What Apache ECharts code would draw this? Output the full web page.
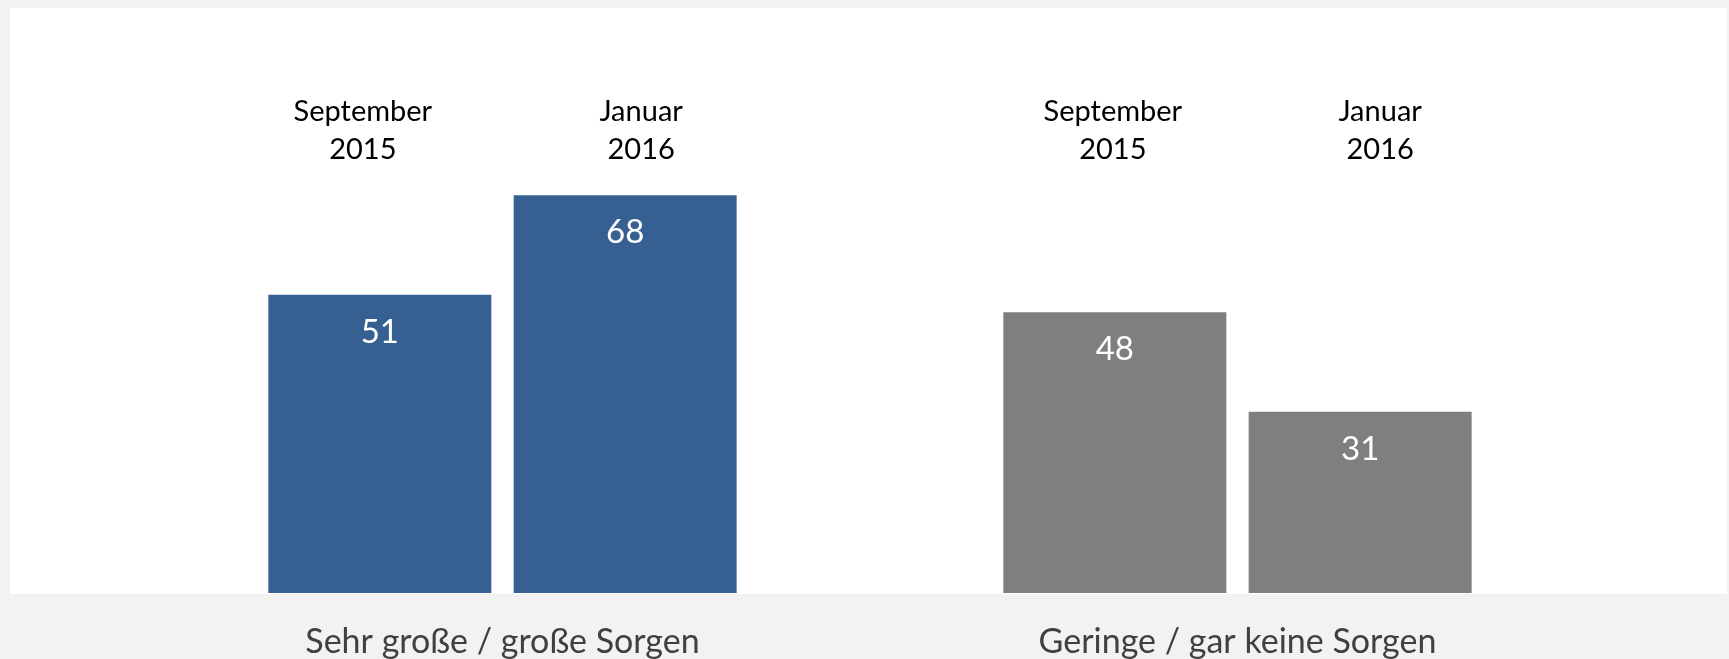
<!DOCTYPE html>
<html>
<head>
<meta charset="utf-8">
<script src="https://cdn.jsdelivr.net/npm/echarts@6/dist/echarts.min.js"></script>
<style>
  html, body { margin: 0; padding: 0; background: #f2f2f2; }
  #chart { width: 1729px; height: 659px; }
</style>
</head>
<body>
<div id="chart"></div>
<script>
// categories on the x axis
const categories = ['Sehr große / große Sorgen', 'Geringe / gar keine Sorgen']
// survey waves
const periods = ['September\n2015', 'Januar\n2016']
const sep2015 = [51, 48]
const jan2016 = [68, 31]
// where the wave headers sit on the value scale
const headerLevel = 79

const groupColors = ['#366092', '#7f7f7f']
// the headers in the original are nudged a little off the bar centres
const headerNudge = {
  sep: [[-17, 0], [-2, 0]],
  jan: [[16, 0], [20, 0]]
}

const myChart = echarts.init(document.getElementById('chart'))

function barSeries (name, values, nudge) {
  return {
    name: name,
    type: 'bar',
    data: values,
    barWidth: 223,
    barGap: '10%',
    itemStyle: {
      color: params => groupColors[params.dataIndex]
    },
    label: {
      show: true,
      position: 'insideTop',
      distance: 21,
      color: '#ffffff',
      fontFamily: 'Lato',
      fontSize: 33
    },
    markPoint: {
      symbol: 'rect',
      symbolSize: 0,
      silent: true,
      label: {
        show: true,
        position: 'inside',
        formatter: name,
        color: '#000000',
        fontFamily: 'Lato',
        fontSize: 29,
        lineHeight: 38
      },
      data: values.map((v, i) => ({
        coord: [i, headerLevel],
        label: { offset: nudge[i] }
      }))
    }
  }
}

const option = {
  backgroundColor: '#f2f2f2',
  animation: false,
  graphic: [{
    type: 'rect',
    z: 0,
    silent: true,
    shape: { x: 10, y: 8, width: 1717, height: 586 },
    style: { fill: '#ffffff' }
  }],
  grid: {
    left: 135,
    right: 124,
    top: 8,
    bottom: 66
  },
  xAxis: {
    type: 'category',
    data: categories,
    axisLine: { show: false },
    axisTick: { show: false },
    axisLabel: {
      color: '#404040',
      fontFamily: 'Lato',
      fontSize: 34,
      margin: 32
    }
  },
  yAxis: {
    type: 'value',
    min: 0,
    max: 100,
    show: false,
    splitLine: { show: false }
  },
  series: [
    barSeries(periods[0], sep2015, headerNudge.sep),
    barSeries(periods[1], jan2016, headerNudge.jan)
  ]
}

myChart.setOption(option)
</script>
</body>
</html>
